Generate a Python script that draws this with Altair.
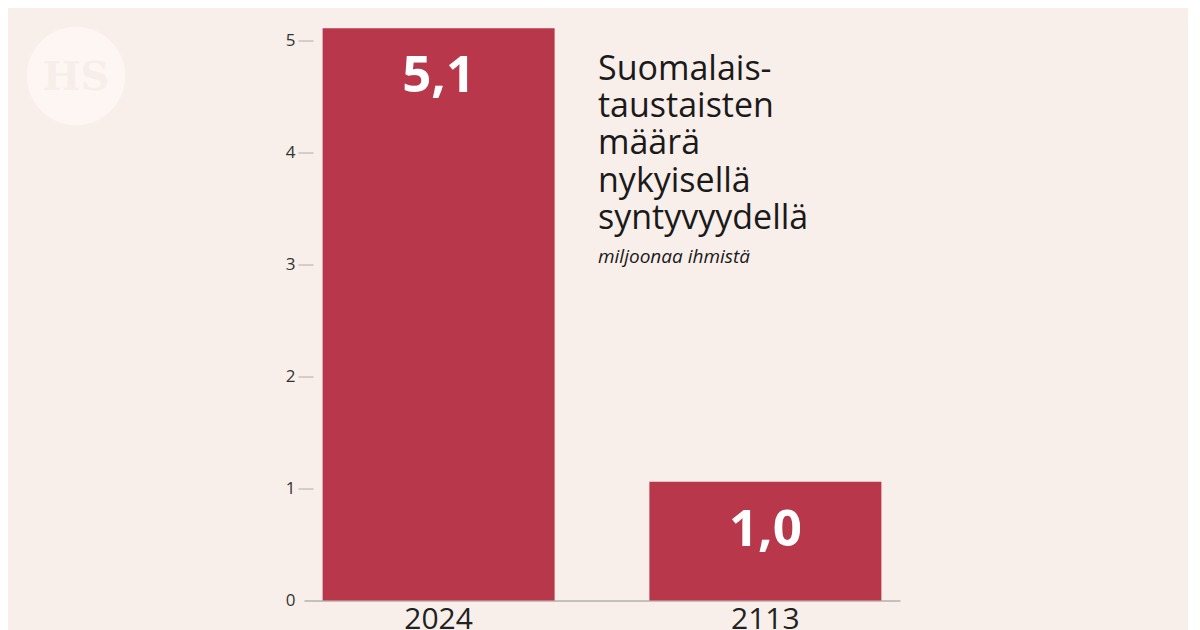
import altair as alt
import pandas as pd

years = ["2024", "2113"]
values = [5.11, 1.06]
labels = ["5,1", "1,0"]

title_lines = ["Suomalais-", "taustaisten", "määrä", "nykyisellä", "syntyvyydellä"]
subtitle = "miljoonaa ihmistä"

BG = "#f9efea"
BAR = "#b8374b"
FONT = "Open Sans"

df = pd.DataFrame({"year": years, "value": values, "label": labels})

x = alt.X("year:N", sort=years, title=None,
          scale=alt.Scale(paddingInner=0.29, paddingOuter=0.057),
          axis=alt.Axis(labelAngle=0, labelFontSize=30, labelColor="#222",
                        labelFont=FONT, ticks=False, domainColor="#b5b0ad",
                        domainWidth=1.5, labelPadding=4))
y = alt.Y("value:Q", title=None,
          scale=alt.Scale(domain=[0, 5], nice=False, zero=True),
          axis=alt.Axis(values=[0, 1, 2, 3, 4, 5], format="d", grid=False, domain=False,
                        tickSize=15, offset=-9, labelPadding=3,
                        labelFontSize=17, labelColor="#333", labelFont=FONT,
                        tickColor={"condition": {"test": "datum.value === 0", "value": "transparent"},
                                   "value": "#b0aaa7"}))

base = alt.Chart(df)
bars = base.mark_bar(color=BAR, clip=False).encode(x=x, y=y)
txt = base.mark_text(color="white", fontSize=51, fontWeight="bold", font=FONT,
                     baseline="alphabetic", dy=64).encode(
    x=alt.X("year:N", sort=years), y="value:Q", text="label:N")

layers = []
ldf = pd.DataFrame({"t": ["HS"]})
layers.append(alt.Chart(ldf).mark_circle(color="#fdf6f3", opacity=1, size=9700).encode(
    x=alt.value(-228), y=alt.value(35.5)))
layers.append(alt.Chart(ldf).mark_text(fontSize=40, fontWeight="bold", font="DejaVu Serif",
                                       color="#f8eee9", baseline="middle").encode(
    x=alt.value(-228), y=alt.value(37), text="t:N"))
layers += [bars, txt]

for i, line in enumerate(title_lines):
    layers.append(alt.Chart(pd.DataFrame({"t": [line]})).mark_text(
        align="left", baseline="alphabetic", fontSize=34, font=FONT, color="#1a1a1a").encode(
        x=alt.value(294), y=alt.value(39.5 + 37.2 * i), text="t:N"))

layers.append(alt.Chart(pd.DataFrame({"t": [subtitle]})).mark_text(
    align="left", baseline="alphabetic", fontSize=19, fontStyle="italic",
    font=FONT, color="#1a1a1a").encode(
    x=alt.value(294), y=alt.value(222.5), text="t:N"))

chart = alt.layer(*layers).properties(
    width=596, height=560,
    background=BG,
    autosize=alt.AutoSizeParams(type="none"),
    padding={"left": 296, "top": 32.5, "right": 288, "bottom": 60},
).configure_view(stroke=None)

chart.save("out.html", embed_options={"renderer": "svg", "actions": False})
